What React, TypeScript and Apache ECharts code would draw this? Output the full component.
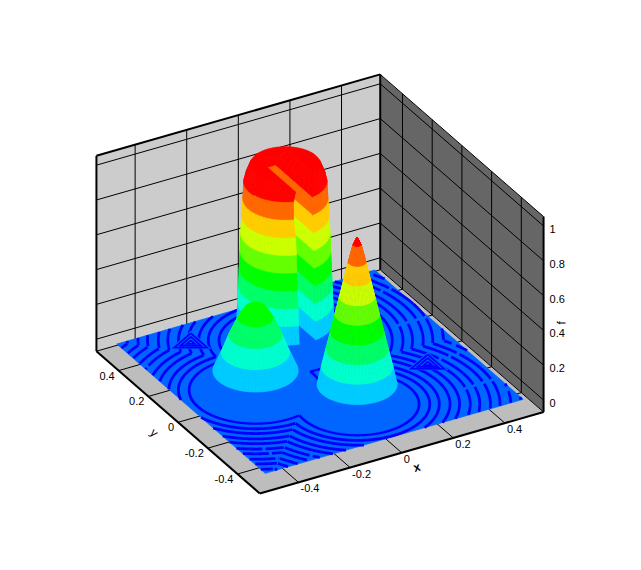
import React, { useEffect, useRef } from "react";
import * as echarts from "echarts";

const axisRange = [-0.55, 0.55];
const tRange = [-0.069, 1.054];
const xTicks = [-0.4, -0.2, 0, 0.2, 0.4];
const yTicks = [-0.4, -0.2, 0, 0.2, 0.4];
const tTicks = [0, 0.2, 0.4, 0.6, 0.8, 1];
const dataRange = [-0.5, 0.5];
const floorLevel = -0.012;

const bandColors = ["#00ccff", "#00ffcc", "#00ff66", "#00ff00", "#66ff00", "#ccff00", "#ffcc00", "#ff6600", "#ff0000", "#ff0000"];
const floorLight = "#0066ff";
const floorDark = "#0000ff";

const coneCenter = [0, -0.25];
const coneLevels = [0.1, 0.2, 0.3, 0.4, 0.5, 0.6, 0.7, 0.8, 0.9, 0.945];
const coneRadii = [0.134, 0.12, 0.105, 0.09, 0.075, 0.06, 0.045, 0.03, 0.014, 0.001];
const coneDisk = 0.2;

const humpCenter = [-0.25, 0];
const humpLevels = [0.1, 0.2, 0.3, 0.4, 0.46, 0.49];
const humpRadii = [0.143, 0.115, 0.09, 0.06, 0.036, 0.004];
const humpDisk = 0.215;

const cylCenter = [0.004, 0.24];
const cylLevels = [0.1, 0.2, 0.3, 0.4, 0.5, 0.6, 0.7, 0.8, 0.9, 0.95, 1];
const cylRadii = [0.163, 0.16, 0.157, 0.155, 0.152, 0.15, 0.147, 0.143, 0.14, 0.132, 0.118];
const slotLeft = [0.038, 0.038, 0.038, 0.04, 0.04, 0.04, 0.042, 0.046, 0.045, 0.034, 0.063];
const slotRight = [0.025, 0.025, 0.025, 0.025, 0.025, 0.025, 0.025, 0.025, 0.025, 0.036, 0.05];
const slotBack = [0.33, 0.335, 0.34, 0.345, 0.35, 0.35, 0.35, 0.35, 0.35, 0.345, 0.31];
const cylDisk = 0.215;

const stripeOffsets = [0.008, 0.044, 0.076, 0.112, 0.144, 0.18, 0.212, 0.248, 0.28, 0.316, 0.35, 0.386, 0.42, 0.456, 0.492, 0.53, 0.57, 0.61];
const stripeBreaks = [0.18, 0.316];
const triangleCenters = [[0.34, -0.135], [-0.28, 0.384]];
const triangleSizes = [0.016, 0.04, 0.064];
const triangleAngles = [60, 180, 300];

function project(x: number, y: number, t: number): number[] {
  return [320 + 258 * x - 148.5 * y, 369.6 - 74 * x - 129.3 * y - 174 * t];
}
const P3 = (pts: number[][]) => pts.map((p) => project(p[0], p[1], p[2]));
function depth(x: number, y: number) {
  return -(74 * x + 129.3 * y);
}
function area(p: number[][]) {
  let a = 0;
  for (let i = 0; i < p.length; i++) {
    const q = p[(i + 1) % p.length];
    a += p[i][0] * q[1] - q[0] * p[i][1];
  }
  return a;
}
function colorOf(level: number) {
  return bandColors[Math.min(bandColors.length - 1, Math.floor(level * 10 + 1e-6) - 1)];
}

type Poly = { pts: number[][]; fill: string };
type Line = { pts: number[][]; stroke: string; width: number; dash?: number[] };
type Label = { text: string; at: number[]; dx: number; dy: number; align: string; rotate?: number; bold?: boolean; size?: number };

function ring(c: number[], r: number, t: number, n = 72): number[][] {
  const out: number[][] = [];
  for (let i = 0; i < n; i++) {
    const a = (i / n) * Math.PI * 2;
    out.push([c[0] + r * Math.cos(a), c[1] + r * Math.sin(a), t]);
  }
  return out;
}
function slottedLoop(i: number, arcN = 72, wallN = 8): number[][] {
  const r = cylRadii[i], wl = slotLeft[i], wr = slotRight[i], back = slotBack[i], t = cylLevels[i];
  const [cx, cy] = cylCenter;
  const out: number[][] = [];
  const a0 = Math.atan2(-Math.sqrt(r * r - wr * wr), wr);
  const a1 = Math.atan2(-Math.sqrt(r * r - wl * wl), -wl) + Math.PI * 2;
  for (let k = 0; k <= arcN; k++) {
    const a = a0 + ((a1 - a0) * k) / arcN;
    out.push([cx + r * Math.cos(a), cy + r * Math.sin(a), t]);
  }
  const ly = out[out.length - 1][1];
  const ry = out[0][1];
  for (let k = 1; k <= wallN; k++) out.push([cx - wl, ly + ((back - ly) * k) / wallN, t]);
  for (let k = 1; k <= 2; k++) out.push([cx - wl + ((wl + wr) * k) / 2, back, t]);
  for (let k = 1; k < wallN; k++) out.push([cx + wr, back + ((ry - back) * k) / wallN, t]);
  return out;
}
function solid(loops: number[][][], levels: number[]): Poly[] {
  const quads: { d: number; poly: Poly }[] = [];
  const sign = Math.sign(area(P3(loops[0])));
  for (let l = 0; l + 1 < loops.length; l++) {
    const fill = colorOf(levels[l]);
    const lo = loops[l], hi = loops[l + 1], n = lo.length;
    for (let i = 0; i < n; i++) {
      const j = (i + 1) % n;
      const q = [lo[i], lo[j], hi[j], hi[i]];
      const pr = P3(q);
      if (area(pr) * sign <= 0) continue;
      const mx = (q[0][0] + q[1][0] + q[2][0] + q[3][0]) / 4;
      const my = (q[0][1] + q[1][1] + q[2][1] + q[3][1]) / 4;
      quads.push({ d: depth(mx, my), poly: { pts: q, fill } });
    }
  }
  quads.sort((a, b) => a.d - b.d);
  const out = quads.map((q) => q.poly);
  out.push({ pts: loops[loops.length - 1], fill: colorOf(levels[levels.length - 1]) });
  return out;
}

const sources = [
  { c: humpCenter, r: humpDisk },
  { c: coneCenter, r: coneDisk },
  { c: cylCenter, r: cylDisk },
];
function triangle(c: number[], s: number): number[][] {
  return triangleAngles.map((d) => {
    const a = (d * Math.PI) / 180;
    return [c[0] + s * Math.cos(a), c[1] + s * Math.sin(a), floorLevel];
  });
}
function buildStripes(): Line[] {
  const lines: Line[] = [];
  const dist = (s: { c: number[]; r: number }, x: number, y: number) => Math.hypot(x - s.c[0], y - s.c[1]) - s.r;
  sources.forEach((s, si) => {
    stripeOffsets.forEach((off) => {
      const n = 900;
      const dash = off >= stripeBreaks[1] ? [12, 5, 20, 6] : off >= stripeBreaks[0] ? [26, 3, 40, 4] : undefined;
      const flush = (cur: number[][]) => {
        if (cur.length > 1) lines.push({ pts: cur, stroke: floorDark, width: 2.8, dash });
      };
      let cur: number[][] = [];
      for (let k = 0; k <= n; k++) {
        const a = (k / n) * Math.PI * 2;
        const x = s.c[0] + (s.r + off) * Math.cos(a);
        const y = s.c[1] + (s.r + off) * Math.sin(a);
        let ok = x >= dataRange[0] && x <= dataRange[1] && y >= dataRange[0] && y <= dataRange[1];
        sources.forEach((o, oj) => {
          if (oj !== si && dist(o, x, y) < off) ok = false;
        });
        if (ok) cur.push([x, y, floorLevel]);
        else {
          flush(cur);
          cur = [];
        }
      }
      flush(cur);
    });
  });
  return lines;
}
function buildTriangleLines(): Line[] {
  const out: Line[] = [];
  triangleCenters.forEach((c) => {
    triangleSizes.forEach((s) => {
      const t = triangle(c, s);
      out.push({ pts: [...t, t[0]], stroke: floorDark, width: 1.8 });
    });
  });
  return out;
}

function buildFrame() {
  const [a0, a1] = axisRange;
  const [t0, t1] = tRange;
  const polys: Poly[] = [
    { pts: [[a0, a1, t0], [a1, a1, t0], [a1, a1, t1], [a0, a1, t1]], fill: "#cccccc" },
    { pts: [[a1, a1, t0], [a1, a0, t0], [a1, a0, t1], [a1, a1, t1]], fill: "#666666" },
    { pts: [[a0, a0, t0], [a1, a0, t0], [a1, a1, t0], [a0, a1, t0]], fill: "#bdbdbd" },
  ];
  const lines: Line[] = [];
  const thin = (pts: number[][]) => lines.push({ pts, stroke: "#000", width: 1 });
  const thick = (pts: number[][]) => lines.push({ pts, stroke: "#000", width: 2 });
  xTicks.forEach((x) => {
    thin([[x, a1, t0], [x, a1, t1]]);
    thin([[x, a0, t0], [x, a1, t0]]);
  });
  yTicks.forEach((y) => {
    thin([[a1, y, t0], [a1, y, t1]]);
    thin([[a0, y, t0], [a1, y, t0]]);
  });
  tTicks.forEach((t) => {
    thin([[a0, a1, t], [a1, a1, t]]);
    thin([[a1, a1, t], [a1, a0, t]]);
  });
  thin([[a1, a1, t1], [a1, a0, t1]]);
  thick([[a0, a1, t0], [a0, a1, t1]]);
  thick([[a0, a1, t1], [a1, a1, t1]]);
  thick([[a1, a1, t0], [a1, a1, t1]]);
  thick([[a1, a0, t0], [a1, a0, t1]]);
  thick([[a0, a1, t0], [a0, a0, t0]]);
  thick([[a0, a0, t0], [a1, a0, t0]]);
  thin([[a0, a1, t0], [a1, a1, t0]]);
  thin([[a1, a1, t0], [a1, a0, t0]]);
  return { polys, lines };
}

function buildLabels(): Label[] {
  const [a0, a1] = axisRange;
  const labels: Label[] = [];
  const fmt = (v: number) => (v === 0 ? "0" : String(v));
  xTicks.forEach((x) => labels.push({ text: fmt(x), at: [x, a0, tRange[0]], dx: 2, dy: 6, align: "left" }));
  yTicks.forEach((y) => labels.push({ text: fmt(y), at: [a0, y, tRange[0]], dx: -4, dy: 5, align: "right" }));
  tTicks.forEach((t) => labels.push({ text: fmt(t), at: [a1, a0, t], dx: 6, dy: 3, align: "left" }));
  labels.push({ text: "x", at: [0.02, a0, tRange[0]], dx: 10, dy: 16, align: "center", rotate: 0.28, bold: true, size: 12 });
  labels.push({ text: "y", at: [a0, 0.02, tRange[0]], dx: -21, dy: 13, align: "center", rotate: -0.75, size: 12 });
  labels.push({ text: "f", at: [a1, a0, 0.45], dx: 18, dy: 1, align: "center", rotate: 1.57, size: 12 });
  return labels;
}

const frame = buildFrame();
const stripes = buildStripes();
const triangleMasks: Poly[] = triangleCenters.map((c) => ({ pts: triangle(c, triangleSizes[triangleSizes.length - 1] + 0.014), fill: floorLight }));
const triangleLines = buildTriangleLines();
const disks: Poly[] = [
  { pts: ring(cylCenter, cylDisk, floorLevel), fill: floorLight },
  { pts: ring(humpCenter, humpDisk, floorLevel), fill: floorLight },
  { pts: ring(coneCenter, coneDisk, floorLevel), fill: floorLight },
];
const floorPoly: Poly[] = [
  { pts: [[dataRange[0], dataRange[0], floorLevel], [dataRange[1], dataRange[0], floorLevel], [dataRange[1], dataRange[1], floorLevel], [dataRange[0], dataRange[1], floorLevel]], fill: floorLight },
];
const cylinder = solid(cylLevels.map((_, i) => slottedLoop(i)), cylLevels);
const hump = solid(humpLevels.map((t, i) => ring(humpCenter, humpRadii[i], t)), humpLevels);
const cone = solid(coneLevels.map((t, i) => ring(coneCenter, coneRadii[i], t)), coneLevels);
const labels = buildLabels();

function polySeries(name: string, items: Poly[], stroke = true) {
  return {
    type: "custom",
    name,
    silent: true,
    clip: false,
    data: items.map((_, i) => [i]),
    encode: { x: 0 },
    renderItem: (_p: any, api: any) => {
      const it = items[api.value(0)];
      const pts = P3(it.pts).map((q) => api.coord(q));
      return {
        type: "polygon",
        shape: { points: pts },
        style: { fill: it.fill, stroke: stroke ? it.fill : undefined, lineWidth: stroke ? 0.7 : 0 },
      };
    },
  };
}
function lineSeries(name: string, items: Line[]) {
  return {
    type: "custom",
    name,
    silent: true,
    clip: false,
    data: items.map((_, i) => [i]),
    encode: { x: 0 },
    renderItem: (_p: any, api: any) => {
      const it = items[api.value(0)];
      const pts = P3(it.pts).map((q) => api.coord(q));
      return {
        type: "polyline",
        shape: { points: pts },
        style: { fill: "none", stroke: it.stroke, lineWidth: it.width, lineDash: it.dash },
      };
    },
  };
}
function labelSeries(name: string, items: Label[]) {
  return {
    type: "custom",
    name,
    silent: true,
    clip: false,
    data: items.map((_, i) => [i]),
    encode: { x: 0 },
    renderItem: (_p: any, api: any) => {
      const it = items[api.value(0)];
      const q = api.coord(project(it.at[0], it.at[1], it.at[2]));
      return {
        type: "text",
        x: q[0] + it.dx,
        y: q[1] + it.dy,
        rotation: it.rotate || 0,
        style: {
          text: it.text,
          fill: "#000",
          font: `${it.bold ? "bold " : ""}${it.size || 11}px "Liberation Sans", Arial, sans-serif`,
          align: it.align,
          verticalAlign: "middle",
        },
      };
    },
  };
}

export default function App() {
  const ref = useRef<HTMLDivElement>(null);
  useEffect(() => {
    document.body.style.margin = "0";
    const chart = echarts.init(ref.current!, undefined, { renderer: "svg" });
    chart.setOption({
      animation: false,
      backgroundColor: "#ffffff",
      grid: { left: 0, right: 0, top: 0, bottom: 0 },
      xAxis: { type: "value", min: 0, max: 641, show: false },
      yAxis: { type: "value", min: 0, max: 570, inverse: true, show: false },
      series: [
        polySeries("walls", frame.polys, false),
        lineSeries("grid", frame.lines),
        polySeries("floor", floorPoly),
        lineSeries("stripes", stripes),
        polySeries("triangleMasks", triangleMasks),
        lineSeries("triangles", triangleLines),
        polySeries("disks", disks),
        polySeries("cylinder", cylinder),
        polySeries("hump", hump),
        polySeries("cone", cone),
        labelSeries("labels", labels),
      ],
    });
    return () => chart.dispose();
  }, []);
  return <div ref={ref} style={{ width: 641, height: 570 }} />;
}
